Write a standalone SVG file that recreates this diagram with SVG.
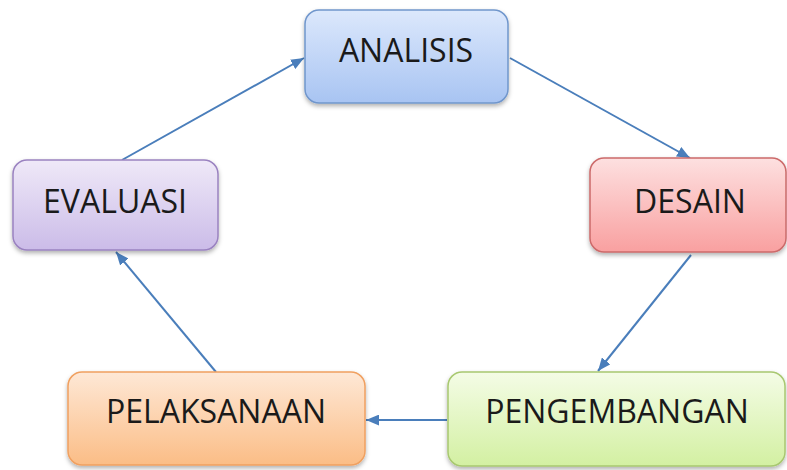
<svg xmlns="http://www.w3.org/2000/svg" width="787" height="470" viewBox="0 0 787 470">
<defs>
<linearGradient id="gBlue" x1="0" y1="0" x2="0" y2="1"><stop offset="0" stop-color="#dce8fc"/><stop offset="1" stop-color="#a8c4f2"/></linearGradient>
<linearGradient id="gRed" x1="0" y1="0" x2="0" y2="1"><stop offset="0" stop-color="#fde0e0"/><stop offset="1" stop-color="#f9a0a0"/></linearGradient>
<linearGradient id="gPurple" x1="0" y1="0" x2="0" y2="1"><stop offset="0" stop-color="#efe9f8"/><stop offset="1" stop-color="#cbbce8"/></linearGradient>
<linearGradient id="gOrange" x1="0" y1="0" x2="0" y2="1"><stop offset="0" stop-color="#fee8d6"/><stop offset="1" stop-color="#fbbd86"/></linearGradient>
<linearGradient id="gGreen" x1="0" y1="0" x2="0" y2="1"><stop offset="0" stop-color="#f4fce6"/><stop offset="1" stop-color="#d3f0a2"/></linearGradient>
<filter id="sh" x="-10%" y="-10%" width="120%" height="130%"><feDropShadow dx="0" dy="2.5" stdDeviation="2" flood-color="#000" flood-opacity="0.3"/></filter>
<marker id="ah" viewBox="0 0 12 10" refX="12" refY="5" markerWidth="13" markerHeight="11" markerUnits="userSpaceOnUse" orient="auto"><path d="M0,0 L12,5 L0,10 z" fill="#4a7ebb"/></marker>
</defs>
<style>
.box{stroke-width:1.5;filter:url(#sh)}
.lbl{font-family:"Open Sans","Liberation Sans",sans-serif;font-size:32px;fill:#1a1a1a;text-anchor:middle}
.con{stroke:#4a7ebb;stroke-width:2;fill:none;marker-end:url(#ah)}
</style>
<g id="connectors">
<line class="con" x1="122" y1="160" x2="304" y2="58"/>
<line class="con" x1="510" y1="58" x2="690" y2="158"/>
<line class="con" x1="691" y1="255" x2="598" y2="371"/>
<line class="con" x1="447" y1="420" x2="366" y2="420"/>
<line class="con" x1="216" y1="372" x2="116" y2="252"/>
</g>
<g id="analisis"><rect class="box" x="305" y="10" width="203" height="93" rx="14" fill="url(#gBlue)" stroke="#7096cc"/><text class="lbl" x="406" y="62">ANALISIS</text></g>
<g id="desain"><rect class="box" x="590" y="158" width="196" height="94" rx="14" fill="url(#gRed)" stroke="#cc6a6a"/><text class="lbl" x="690" y="213">DESAIN</text></g>
<g id="evaluasi"><rect class="box" x="13" y="160" width="205" height="90" rx="14" fill="url(#gPurple)" stroke="#9a82c0"/><text class="lbl" x="115" y="213">EVALUASI</text></g>
<g id="pelaksanaan"><rect class="box" x="68" y="372" width="297" height="93" rx="14" fill="url(#gOrange)" stroke="#f0a060"/><text class="lbl" x="216" y="423">PELAKSANAAN</text></g>
<g id="pengembangan"><rect class="box" x="448" y="372" width="337" height="94" rx="14" fill="url(#gGreen)" stroke="#a8c870"/><text class="lbl" x="617" y="423">PENGEMBANGAN</text></g>
</svg>
